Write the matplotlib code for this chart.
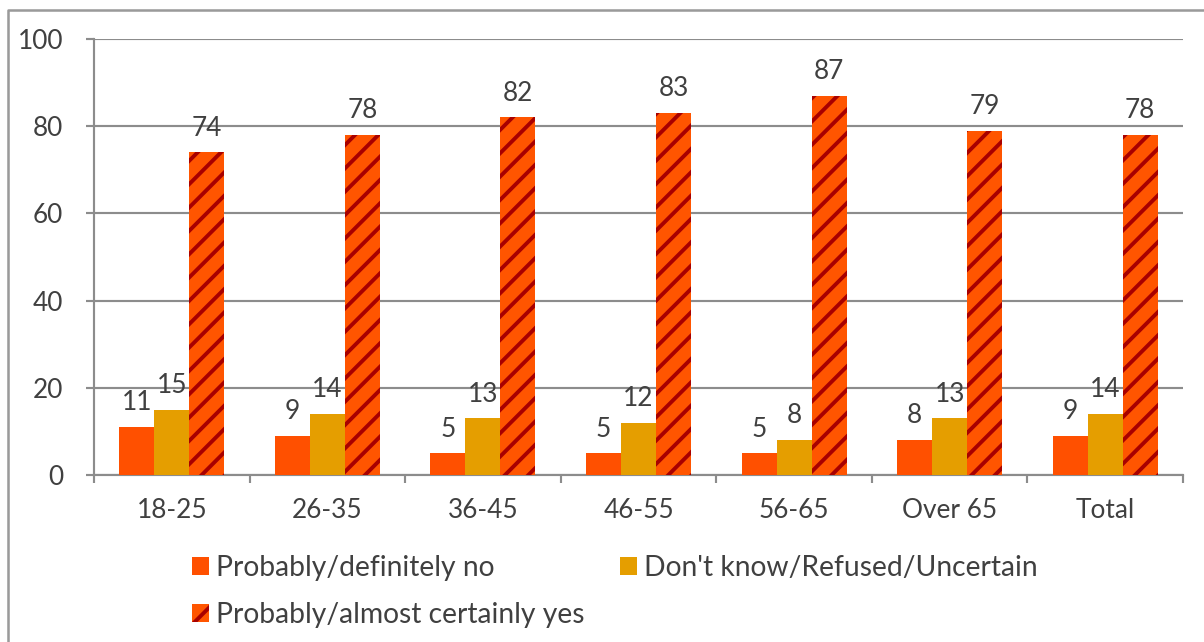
import matplotlib.pyplot as plt
from matplotlib.lines import Line2D
import numpy as np

# Survey responses by age group (%)
groups = ['18-25', '26-35', '36-45', '46-55', '56-65', 'Over 65', 'Total']
no_vals = [11, 9, 5, 5, 5, 8, 9]
unsure_vals = [15, 14, 13, 12, 8, 13, 14]
yes_vals = [74, 78, 82, 83, 87, 79, 78]
series_names = ['Probably/definitely no',
                'Don\'t know/Refused/Uncertain',
                'Probably/almost certainly yes']

plt.rcParams['font.family'] = ['Lato', 'DejaVu Sans']
plt.rcParams['hatch.linewidth'] = 2.0
text_col = '#404040'
grid_col = '#8c8c8c'

fig = plt.figure(figsize=(1204 / 140, 642 / 140), dpi=140)
ax = fig.add_axes([94 / 1204, 1 - 475 / 642, (1183 - 94) / 1204, (475 - 39) / 642])

# outer frame of the chart
frame = Line2D([8 / 1204, 8 / 1204, 1.0], [0.0, 1 - 10 / 642, 1 - 10 / 642],
               transform=fig.transFigure, color='#9a9a9a', lw=1.3)
fig.add_artist(frame)

x = np.arange(len(groups))
w = 0.225
b1 = ax.bar(x - w, no_vals, w, color='#ff5000', zorder=3, label=series_names[0])
b2 = ax.bar(x, unsure_vals, w, color='#e59e00', zorder=3, label=series_names[1])
b3 = ax.bar(x + w, yes_vals, w, facecolor='#ff5500', edgecolor='#a80000',
            hatch='//', linewidth=0, zorder=3, label=series_names[2])

for bars, vals in [(b1, no_vals), (b2, unsure_vals), (b3, yes_vals)]:
    for rect, v in zip(bars, vals):
        ax.annotate(str(v), (rect.get_x() + rect.get_width() / 2, v),
                    xytext=(0, 6), textcoords='offset points',
                    ha='center', va='bottom', fontsize=13.5, color=text_col,
                    zorder=4)

ax.set_ylim(0, 100)
ax.set_xlim(-0.5, len(groups) - 0.5)
ax.set_yticks(range(0, 101, 20))
ax.yaxis.grid(True, color=grid_col, lw=1.1)
ax.set_axisbelow(True)

ax.set_xticks(x)
ax.set_xticklabels(groups)
ax.set_xticks(np.arange(-0.5, len(groups), 1), minor=True)
ax.tick_params(axis='x', which='major', length=0, pad=12, labelsize=13.5,
               labelcolor=text_col)
ax.tick_params(axis='x', which='minor', length=4, width=1.1, color=grid_col)
ax.tick_params(axis='y', length=4, width=1.1, color=grid_col, pad=12,
               labelsize=13.5, labelcolor=text_col)

for side in ['top', 'right']:
    ax.spines[side].set_visible(False)
for side in ['left', 'bottom']:
    ax.spines[side].set_color(grid_col)
    ax.spines[side].set_linewidth(1.1)

handles = [b1, b3, b2]
labels = [series_names[0], series_names[2], series_names[1]]
leg = fig.legend(handles, labels, ncol=2, loc='upper left',
                 bbox_to_anchor=(181 / 1204, 1 - 544 / 642),
                 frameon=False, fontsize=14.5, labelcolor=text_col,
                 handlelength=0.6, handleheight=0.6, handletextpad=0.25,
                 columnspacing=1.25, labelspacing=0.72, borderaxespad=0)

fig.savefig('out.png', dpi=140)
